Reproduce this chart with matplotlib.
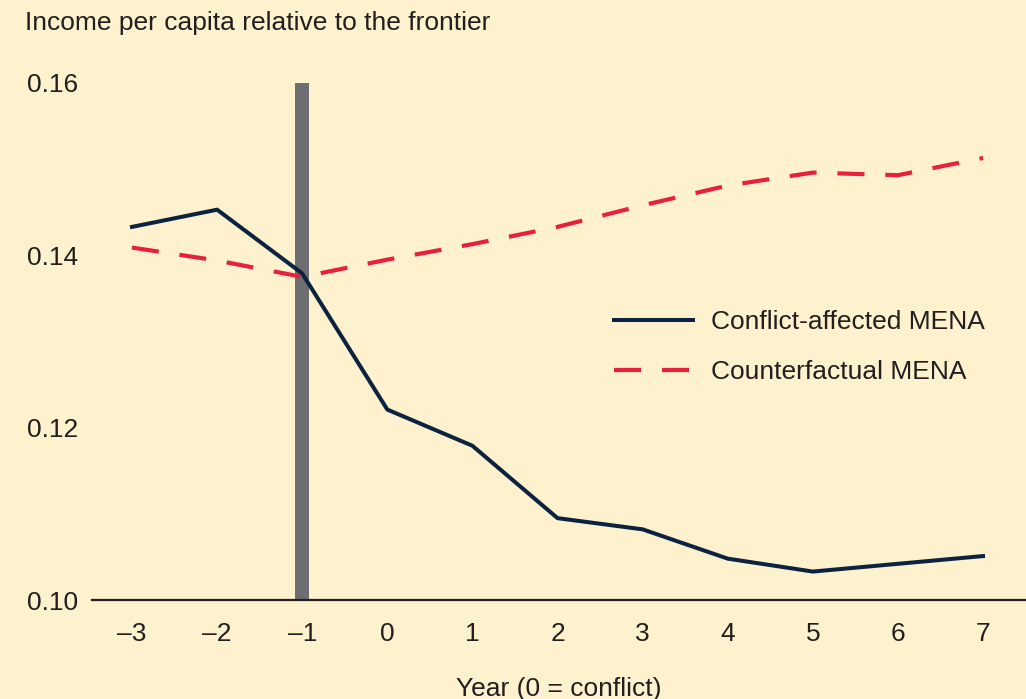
import matplotlib.pyplot as plt

years = [-3, -2, -1, 0, 1, 2, 3, 4, 5, 6, 7]
conflict = [0.1433, 0.1453, 0.1379, 0.1221, 0.1179, 0.1095, 0.1082, 0.1048, 0.1033, 0.1042, 0.1051]
counterfactual = [0.1409, 0.1394, 0.1375, 0.1395, 0.1413, 0.1433, 0.1458, 0.1481, 0.1496, 0.1493, 0.1513]
conflict_year = -1
y_ticks = [0.10, 0.12, 0.14, 0.16]
y_labels = ["0.10", "0.12", "0.14", "0.16"]
x_labels = ["\u20133", "\u20132", "\u20131", "0", "1", "2", "3", "4", "5", "6", "7"]

bg = "#fef1cd"
navy = "#0b2341"
red = "#e8203a"
grey = "#6d6e71"
txt = "#231f20"

plt.rcParams['font.family'] = ['Liberation Sans', 'DejaVu Sans']

fig = plt.figure(figsize=(10.26, 6.99), dpi=100, facecolor=bg)
ax = fig.add_axes([92 / 1026, 99 / 699, 934 / 1026, 517 / 699])
ax.set_facecolor(bg)

# conflict marker bar
ax.bar([conflict_year], [0.06], bottom=0.10, width=0.165, color=grey, zorder=1)

ax.plot(years, conflict, color=navy, lw=2.9, label="Conflict-affected MENA", zorder=3)
ax.plot(years, counterfactual, color=red, lw=3.0, dashes=(6.5, 5), label="Counterfactual MENA", zorder=3)

ax.set_xlim(-3.47, 7.505)
ax.set_ylim(0.10, 0.16)
ax.set_xticks(years)
ax.set_xticklabels(x_labels)
ax.set_yticks(y_ticks)
ax.set_yticklabels(y_labels)
ax.tick_params(axis='both', length=0, labelsize=19, colors=txt)
ax.tick_params(axis='x', pad=16)
ax.tick_params(axis='y', pad=10)

for s in ['top', 'right', 'left']:
    ax.spines[s].set_visible(False)
ax.spines['bottom'].set_linewidth(1.6)
ax.spines['bottom'].set_color(txt)

ax.set_xlabel("Year (0 = conflict)", fontsize=19, color=txt, labelpad=22)

fig.text(25 / 1026, 1 - 23 / 699, "Income per capita relative to the frontier",
         fontsize=19, color=txt, ha='left', va='center')

leg = ax.legend(loc='center left', bbox_to_anchor=(590 / 1026, 1 - 347 / 699),
                bbox_transform=fig.transFigure, frameon=False, fontsize=19,
                handlelength=3.0, handletextpad=0.7, labelspacing=1.0)
for t in leg.get_texts():
    t.set_color(txt)

plt.savefig("out.png", dpi=100, facecolor=bg)
